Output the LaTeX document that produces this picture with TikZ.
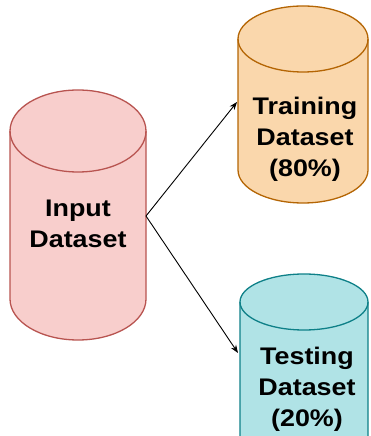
\documentclass[tikz,border=0pt]{standalone}
\usepackage{fontspec}
\setmainfont{Liberation Sans}
\newfontfamily\lblfont[FakeStretch=1.12]{Liberation Sans}
\usepackage{tikz}
\usetikzlibrary{arrows.meta}

\definecolor{inpfill}{HTML}{F8CECC}
\definecolor{inpline}{HTML}{B85450}
\definecolor{trfill}{HTML}{FAD7AC}
\definecolor{trline}{HTML}{B46504}
\definecolor{tsfill}{HTML}{B0E3E6}
\definecolor{tsline}{HTML}{0E8088}

\tikzset{
    dblabel/.style={align=center, font=\lblfont\fontsize{24}{31}\selectfont\bfseries},
    dbline/.style={line width=1.3pt},
    flow/.style={-{Stealth[length=8pt,width=6pt]}, line width=0.9pt}
}

% cylinder: centre x, top ellipse y, bottom ellipse y, x radius, y radius
\newcommand{\dbcyl}[7]{%
    \filldraw[dbline, fill=#6, draw=#7]
        (#1-#4,#2) -- (#1-#4,#3)
        arc[start angle=180, end angle=360, x radius=#4, y radius=#5]
        -- (#1+#4,#2)
        arc[start angle=0, end angle=180, x radius=#4, y radius=#5] -- cycle;
    \draw[dbline, draw=#7] (#1-#4,#2)
        arc[start angle=180, end angle=360, x radius=#4, y radius=#5];
}

\begin{document}
\begin{tikzpicture}[x=1pt, y=1pt]
    \useasboundingbox (0,0) rectangle (370,436);

    % 三个数据集
    \dbcyl{78}{305}{137}{68}{41}{inpfill}{inpline}
    \dbcyl{303}{397}{266}{65}{33}{trfill}{trline}
    \dbcyl{304}{134}{-10}{64}{28}{tsfill}{tsline}

    % 标签
    \node[dblabel] (inp) at (78,212) {Input\\Dataset};
    \node[dblabel] (train) at (305,297) {Training\\Dataset\\(80\%)};
    \node[dblabel] (test) at (307,47) {Testing\\Dataset\\(20\%)};

    % 连接点
    \coordinate (inpside) at (146,220);
    \coordinate (trainside) at (237,334);
    \coordinate (testside) at (238,83);

    % 箭头
    \draw[flow] (inpside) -- (trainside);
    \draw[flow] (inpside) -- (testside);
\end{tikzpicture}
\end{document}
